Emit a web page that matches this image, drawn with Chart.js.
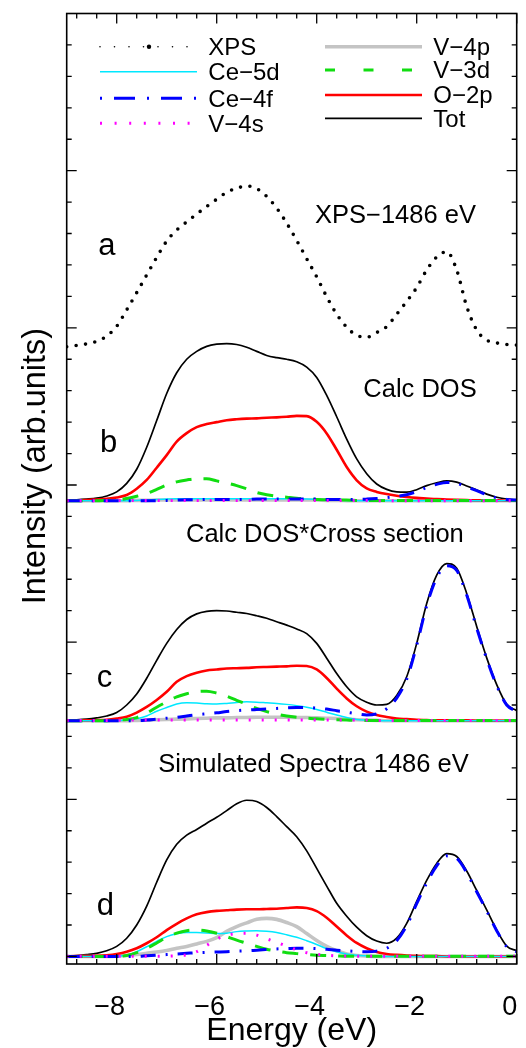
<!DOCTYPE html>
<html><head><meta charset="utf-8">
<script src="https://cdn.jsdelivr.net/npm/chart.js@4.4.1/dist/chart.umd.min.js"></script>
<style>html,body{margin:0;padding:0;background:#fff;} canvas{display:block;}</style>
</head><body>
<canvas id="c" width="526" height="1048"></canvas>
<script>
// ---------- DATA ----------
const energy = [-9.0,-8.8,-8.6,-8.4,-8.2,-8.0,-7.8,-7.6,-7.4,-7.2,-7.0,-6.8,-6.6,-6.4,-6.2,-6.0,-5.8,-5.6,-5.4,-5.2,-5.0,-4.8,-4.6,-4.4,-4.2,-4.0,-3.8,-3.6,-3.4,-3.2,-3.0,-2.8,-2.6,-2.4,-2.2,-2.0,-1.8,-1.6,-1.4,-1.2,-1.0,-0.8,-0.6,-0.4,-0.2,0.0];
const xTickValues = [-8,-6,-4,-2,0];

// panel a : measured XPS
const xpsA = [0.40,0.44,0.49,0.57,0.74,1.05,1.57,2.12,2.68,3.24,3.76,4.11,4.37,4.62,4.86,5.09,5.31,5.44,5.51,5.43,5.18,4.81,4.33,3.78,3.20,2.62,1.99,1.43,1.02,0.76,0.70,0.85,1.04,1.43,1.84,2.28,2.84,3.25,3.42,2.84,1.68,0.93,0.61,0.52,0.47,0.45];

// panel b : Calc DOS
const totB  = [0.02,0.03,0.05,0.08,0.15,0.28,0.55,1.00,1.70,2.55,3.41,4.07,4.50,4.75,4.91,4.98,5.00,4.97,4.88,4.75,4.62,4.55,4.50,4.42,4.25,3.92,3.35,2.67,1.96,1.33,0.86,0.53,0.36,0.28,0.27,0.35,0.48,0.57,0.63,0.59,0.47,0.34,0.21,0.11,0.05,0.03];
const o2pB  = [0.00,0.01,0.02,0.04,0.06,0.10,0.18,0.38,0.66,1.05,1.45,1.88,2.15,2.34,2.44,2.50,2.56,2.59,2.61,2.62,2.64,2.65,2.67,2.70,2.69,2.51,2.14,1.62,1.07,0.65,0.39,0.28,0.21,0.16,0.12,0.09,0.07,0.05,0.04,0.03,0.02,0.01,0.01,0.01,0.00,0.00];
const v3dB  = [0,0,0,0,0.01,0.02,0.07,0.14,0.23,0.36,0.50,0.60,0.66,0.70,0.70,0.63,0.56,0.48,0.38,0.26,0.19,0.14,0.11,0.08,0.06,0.04,0.03,0.02,0.02,0.01,0.01,0.01,0.01,0.01,0.01,0.01,0.01,0.01,0.01,0.01,0.01,0.01,0.01,0.01,0.01,0.01];
const ce4fB = [0,0,0,0,0,0,0,0,0,0,0.01,0.02,0.03,0.03,0.04,0.04,0.04,0.04,0.04,0.05,0.05,0.05,0.05,0.05,0.05,0.05,0.04,0.04,0.04,0.04,0.05,0.07,0.10,0.14,0.19,0.29,0.42,0.52,0.58,0.55,0.44,0.32,0.19,0.09,0.04,0.02];
const ce5dB = [0,0,0,0,0,0,0,0.01,0.02,0.04,0.05,0.06,0.06,0.06,0.06,0.06,0.06,0.06,0.06,0.06,0.06,0.06,0.06,0.05,0.05,0.04,0.03,0.02,0.01,0,0,0,0,0,0,0,0,0,0,0,0,0,0,0,0,0];
const v4pB  = [0,0,0,0,0,0,0,0.01,0.01,0.02,0.02,0.02,0.02,0.02,0.02,0.02,0.02,0.02,0.02,0.02,0.02,0.02,0.02,0.02,0.02,0.02,0.01,0.01,0,0,0,0,0,0,0,0,0,0,0,0,0,0,0,0,0,0];
const v4sB  = [0,0,0,0,0,0.01,0.01,0.01,0.01,0.01,0.01,0.01,0.01,0.01,0.01,0.01,0.01,0.01,0.01,0.01,0.01,0.01,0.01,0.01,0.01,0.01,0.01,0.01,0.01,0.01,0.01,0,0,0,0,0,0,0,0,0,0,0,0,0,0,0];

// panel c : Calc DOS * cross section
const totC  = [0.02,0.03,0.05,0.09,0.15,0.26,0.50,0.85,1.35,1.92,2.46,2.90,3.22,3.40,3.48,3.50,3.49,3.45,3.41,3.34,3.26,3.15,3.04,2.92,2.77,2.46,1.99,1.50,1.08,0.76,0.59,0.50,0.52,0.80,1.40,2.46,3.73,4.63,5.00,4.85,4.05,3.00,2.00,1.15,0.52,0.32];
const o2pC  = [0,0.01,0.01,0.02,0.03,0.07,0.13,0.26,0.44,0.66,0.92,1.24,1.42,1.53,1.60,1.63,1.66,1.67,1.68,1.70,1.71,1.72,1.73,1.75,1.74,1.63,1.36,1.02,0.71,0.46,0.29,0.18,0.12,0.07,0.05,0.03,0.02,0.01,0.01,0.01,0.01,0,0,0,0,0];
const v3dC  = [0,0,0,0,0,0.02,0.04,0.10,0.24,0.43,0.60,0.76,0.86,0.93,0.94,0.88,0.78,0.65,0.52,0.39,0.29,0.21,0.15,0.11,0.08,0.06,0.04,0.03,0.02,0.01,0.01,0.01,0.01,0.01,0.01,0.01,0.01,0.01,0.01,0.01,0.01,0.01,0.01,0.01,0.01,0.01];
const ce5dC = [0,0,0,0,0,0,0.02,0.06,0.15,0.30,0.42,0.53,0.57,0.56,0.54,0.53,0.55,0.58,0.60,0.59,0.57,0.55,0.52,0.48,0.43,0.36,0.27,0.18,0.10,0.04,0.02,0,0,0,0,0,0,0,0,0,0,0,0,0,0,0];
const ce4fC = [0,0,0,0,0,0,0,0,0.02,0.05,0.08,0.11,0.15,0.19,0.22,0.25,0.29,0.32,0.34,0.36,0.37,0.39,0.41,0.42,0.42,0.40,0.37,0.32,0.27,0.22,0.18,0.22,0.38,0.72,1.32,2.40,3.66,4.55,4.93,4.78,4.00,2.95,1.97,1.12,0.50,0.30];
const v4pC  = [0,0,0,0,0,0,0,0.01,0.02,0.03,0.04,0.05,0.06,0.07,0.08,0.09,0.09,0.10,0.10,0.11,0.11,0.11,0.11,0.10,0.10,0.09,0.08,0.07,0.05,0.03,0.02,0.01,0,0,0,0,0,0,0,0,0,0,0,0,0,0];
const v4sC  = [0.01,0.01,0.01,0.01,0.01,0.01,0.02,0.02,0.02,0.02,0.02,0.02,0.02,0.02,0.02,0.02,0.02,0.02,0.02,0.02,0.02,0.02,0.02,0.02,0.02,0.02,0.02,0.02,0.02,0.02,0.02,0.01,0.01,0.01,0.01,0.01,0.01,0.01,0.01,0.01,0.01,0.01,0.01,0.01,0.01,0.01];

// panel d : Simulated spectra 1486 eV
const totD  = [0.02,0.03,0.06,0.10,0.18,0.32,0.58,1.00,1.60,2.36,3.07,3.57,3.86,4.04,4.24,4.43,4.64,4.86,4.97,4.93,4.74,4.45,4.13,3.81,3.36,2.80,2.24,1.69,1.28,0.93,0.66,0.49,0.42,0.58,1.05,1.75,2.42,2.96,3.27,3.18,2.72,2.10,1.48,0.84,0.33,0.18];
const o2pD  = [0,0.01,0.01,0.02,0.04,0.08,0.15,0.26,0.42,0.61,0.84,1.04,1.21,1.34,1.41,1.45,1.47,1.49,1.50,1.50,1.51,1.52,1.54,1.56,1.54,1.44,1.23,0.95,0.67,0.43,0.26,0.14,0.08,0.05,0.03,0.02,0.01,0.01,0,0,0,0,0,0,0,0];
const v4pD  = [0,0,0,0,0,0.01,0.03,0.06,0.10,0.14,0.19,0.26,0.32,0.40,0.48,0.60,0.80,0.95,1.07,1.18,1.21,1.18,1.08,0.95,0.73,0.51,0.32,0.18,0.08,0.03,0.01,0,0,0,0,0,0,0,0,0,0,0,0,0,0,0];
const ce5dD = [0,0,0,0,0,0.01,0.04,0.15,0.31,0.48,0.63,0.72,0.76,0.76,0.75,0.73,0.74,0.79,0.81,0.82,0.80,0.76,0.69,0.61,0.50,0.38,0.25,0.15,0.08,0.04,0.02,0,0,0,0,0,0,0,0,0,0,0,0,0,0,0];
const v3dD  = [0,0,0,0,0,0,0.03,0.12,0.26,0.43,0.61,0.74,0.82,0.84,0.81,0.74,0.63,0.52,0.42,0.32,0.23,0.17,0.12,0.09,0.06,0.04,0.03,0.02,0.01,0.01,0.01,0.01,0.01,0.01,0.01,0.01,0.01,0.01,0.01,0.01,0.01,0.01,0.01,0.01,0.01,0.01];
const ce4fD = [0,0,0,0,0,0,0,0,0.02,0.04,0.06,0.08,0.10,0.12,0.13,0.14,0.15,0.17,0.18,0.20,0.22,0.24,0.25,0.26,0.26,0.25,0.23,0.20,0.18,0.16,0.15,0.17,0.26,0.50,0.98,1.68,2.34,2.88,3.20,3.12,2.67,2.06,1.45,0.82,0.31,0.15];
const v4sD  = [0.01,0.01,0.01,0.01,0.01,0.01,0.01,0.01,0.01,0.01,0.01,0.02,0.05,0.15,0.35,0.55,0.68,0.73,0.74,0.68,0.56,0.45,0.33,0.21,0.12,0.07,0.04,0.02,0.01,0.01,0.01,0.01,0.01,0.01,0.01,0.01,0.01,0.01,0.01,0.01,0.01,0.01,0.01,0.01,0.01,0.01];

const panelOffset = {a:19, b:14.5, c:7.5, d:0};
const panelTitles = ['XPS\u22121486 eV','Calc DOS','Calc DOS*Cross section','Simulated Spectra 1486 eV'];
const panelLetters = ['a','b','c','d'];

// ---------- STYLE / LAYOUT ----------
const FONT = '"Liberation Sans", Arial, Helvetica, sans-serif';
const style = {
  'XPS':          {color:'#000000', width:3.6, dash:[0,9.5], cap:'round', legendDash:[0,14.5], legendWidth:1.6},
  'Ce\u22125d':   {color:'#00e8ff', width:1.5, dash:[]},
  'Ce\u22124f':   {color:'#0000ff', width:3,   dash:[15,10,2,10], legendDash:[2,12,21,12]},
  'V\u22124s':    {color:'#ff00ff', width:3,   dash:[2,11], legendDash:[2,12.6]},
  'V\u22124p':    {color:'#c4c4c4', width:3.6, dash:[]},
  'V\u22123d':    {color:'#11dd11', width:3,   dash:[16,12], legendDash:[10,28.5]},
  'O\u22122p':    {color:'#ff0000', width:2.6, dash:[]},
  'Tot':          {color:'#000000', width:1.7, dash:[]}
};
const legendCols = [
  {names:['XPS','Ce\u22125d','Ce\u22124f','V\u22124s'], x0:100, x1:197, tx:208.3, ys:[46.7,71.7,98.3,123.3]},
  {names:['V\u22124p','V\u22123d','O\u22122p','Tot'], x0:325, x1:422, tx:433.3, ys:[46.7,70,95,118.3]}
];
const titlePos  = [[315,223.3],[363.3,396.7],[186,541.7],[158.3,771.7]];
const letterPos = [[98.3,255],[100,451.7],[96.7,686.7],[96.7,915]];

function makeDs(name, values, offset){
  const st = style[name];
  return {
    label: name,
    data: energy.map((e,i)=>({x:e, y:values[i]+offset})),
    borderColor: st.color, backgroundColor: st.color,
    borderWidth: st.width, borderDash: st.dash,
    borderCapStyle: st.cap || 'butt', borderJoinStyle:'round',
    pointRadius:0, fill:false, cubicInterpolationMode:'monotone'
  };
}
const datasets = [];
[['d',[v4sD,ce4fD,v3dD,ce5dD,o2pD,v4pD,totD]],
 ['c',[v4sC,ce4fC,v3dC,ce5dC,o2pC,v4pC,totC]],
 ['b',[v4sB,ce4fB,v3dB,ce5dB,o2pB,v4pB,totB]]].forEach(([p,arrs])=>{
  const names = ['V\u22124s','Ce\u22124f','V\u22123d','Ce\u22125d','O\u22122p','V\u22124p','Tot'];
  arrs.forEach((a,i)=>datasets.push(makeDs(names[i], a, panelOffset[p])));
});
datasets.push(makeDs('XPS', xpsA, panelOffset.a));

const framePlugin = {
  id:'frame',
  afterDatasetsDraw(chart){
    const ctx = chart.ctx, {left,right,top,bottom} = chart.chartArea;
    const xs = chart.scales.x, ys = chart.scales.y;
    ctx.save();
    ctx.strokeStyle = '#000'; ctx.lineWidth = 1.6; ctx.setLineDash([]);
    ctx.strokeRect(left, top, right-left, bottom-top);
    ctx.lineWidth = 1.3;
    ctx.beginPath();
    for (let k=-22; k<=0; k++){
      const v = k*0.4; const px = xs.getPixelForValue(v);
      const major = Math.abs(v/2 - Math.round(v/2)) < 1e-6;
      const L = major ? 10 : 5;
      ctx.moveTo(px, bottom); ctx.lineTo(px, bottom-L);
      ctx.moveTo(px, top); ctx.lineTo(px, top+L);
    }
    for (let v=0; v<30; v++){
      const py = ys.getPixelForValue(v);
      const L = (v%5===0) ? 10 : 5;
      ctx.moveTo(left, py); ctx.lineTo(left+L, py);
      ctx.moveTo(right, py); ctx.lineTo(right-L, py);
    }
    ctx.stroke();
    ctx.restore();
  },
  afterDraw(chart){
    const ctx = chart.ctx;
    ctx.save();
    ctx.fillStyle = '#000';
    // legend
    ctx.font = '24px ' + FONT; ctx.textAlign='left'; ctx.textBaseline='alphabetic';
    legendCols.forEach(col=>{
      col.names.forEach((n,i)=>{
        const st = style[n], y = col.ys[i];
        ctx.strokeStyle = st.color;
        ctx.lineWidth = st.legendWidth || st.width;
        ctx.lineCap = st.cap || 'butt';
        ctx.setLineDash(st.legendDash || st.dash);
        ctx.beginPath(); ctx.moveTo(col.x0, y); ctx.lineTo(col.x1, y); ctx.stroke();
        if (n === 'XPS'){
          ctx.beginPath(); ctx.arc((col.x0+col.x1)/2 + 0.5, y, 2.2, 0, Math.PI*2); ctx.fill();
        }
        ctx.setLineDash([]);
        ctx.fillText(n, col.tx, y + 8.3);
      });
    });
    // panel titles and letters
    ctx.font = '25.5px ' + FONT;
    panelTitles.forEach((t,i)=>ctx.fillText(t, titlePos[i][0], titlePos[i][1]));
    ctx.font = '31px ' + FONT;
    panelLetters.forEach((t,i)=>ctx.fillText(t, letterPos[i][0], letterPos[i][1]));
    // y axis title
    ctx.font = '32.5px ' + FONT;
    ctx.translate(36.5, 466); ctx.rotate(-Math.PI/2);
    ctx.textAlign='center'; ctx.textBaseline='middle';
    ctx.fillText('Intensity (arb.units)', 0, 0);
    ctx.restore();
  }
};

new Chart(document.getElementById('c'), {
  type:'line',
  data:{datasets},
  options:{
    responsive:false, animation:false, devicePixelRatio:1,
    layout:{padding:{left:66.7, right:9.3, top:13.5, bottom:0}},
    plugins:{legend:{display:false}, tooltip:{enabled:false}},
    scales:{
      x:{type:'linear', min:-9, max:0, position:'bottom',
        grid:{display:false}, border:{display:false},
        afterBuildTicks:s=>{ s.ticks = xTickValues.map(v=>({value:v})); },
        afterFit:s=>{ s.height = 84; s.paddingLeft = 0; s.paddingRight = 0; },
        ticks:{font:{family:FONT, size:27}, color:'#000', padding:19, labelOffset:-7, maxRotation:0, autoSkip:false,
          callback:v=> v<0 ? '\u2212'+Math.abs(v) : String(v)},
        title:{display:true, text:'Energy (eV)', color:'#000', font:{family:FONT, size:32, lineHeight:1}, padding:{top:0, bottom:1}}
      },
      y:{type:'linear', min:-0.24, max:30, display:false}
    }
  },
  plugins:[framePlugin]
});
</script>
</body></html>
